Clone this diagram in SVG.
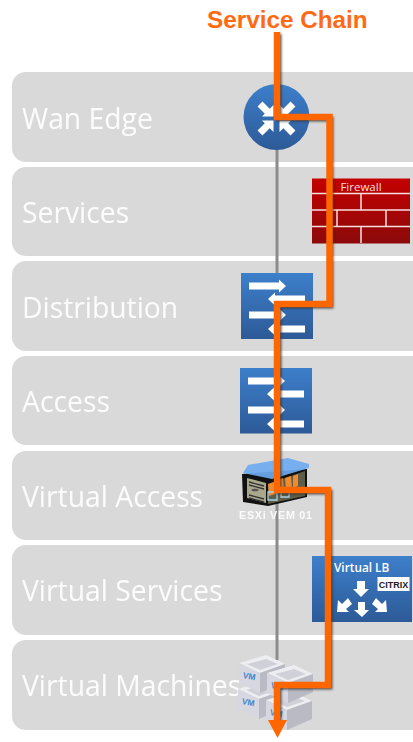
<svg xmlns="http://www.w3.org/2000/svg" width="413" height="742" viewBox="0 0 413 742">
<style>
.band{fill:#d9d9d9}
.lbl{font-family:"Open Sans","Noto Sans",sans-serif;font-size:28.300px;fill:#fff;opacity:.92}
.w{fill:#fff}
.brick{stroke:#f7e0e0;stroke-width:1.500;fill:none}
.vmt{fill:#eeeef2}.vml{fill:#d6d7e0}.vmr{fill:#b9bac3}.vmi{fill:#cfd0d8}
.vmx{font-family:"Liberation Sans",sans-serif;font-size:8.500px;font-weight:bold;fill:#3f86cf}
</style>
<defs>
<linearGradient id="blue" x1="0" y1="0" x2="0" y2="1"><stop offset="0" stop-color="#3d7fcb"/><stop offset="1" stop-color="#2d5a97"/></linearGradient>
<linearGradient id="red" x1="0" y1="0" x2="0" y2="1"><stop offset="0" stop-color="#c40000"/><stop offset="1" stop-color="#8c0a0a"/></linearGradient>
<filter id="soft" x="-10%" y="-10%" width="120%" height="120%"><feGaussianBlur stdDeviation="0.8"/></filter>
<g id="sw">
<path class="w" d="M8 9.500h30v-3l7 6.500-7 6.500v-3h-30z"/>
<path class="w" d="M64 22.500h-30v-3l-7 6.500 7 6.500v-3h30z"/>
<path class="w" d="M8 38.500h30v-3l7 6.500-7 6.500v-3h-30z"/>
<path class="w" d="M64 52.500h-30v-3l-7 6.500 7 6.500v-3h30z"/>
</g>
<g id="vmb">
<path class="vmt" d="M0 8l27-8 19 9-25 9z"/>
<path class="vmi" d="M8 9l19-5 12 5-18 6z"/>
<path class="vml" d="M0 8l21 10v20l-21-10z"/>
<path class="vmr" d="M21 18l25-9v18l-25 11z"/>
<text class="vmx" x="3.500" y="23" transform="rotate(10 3.500 23)">VM</text>
</g>
</defs>

<g id="bands">
<rect class="band" x="12" y="72" width="420" height="90" rx="14"/>
<rect class="band" x="12" y="167" width="420" height="89" rx="14"/>
<rect class="band" x="12" y="261" width="420" height="90" rx="14"/>
<rect class="band" x="12" y="356" width="420" height="89" rx="14"/>
<rect class="band" x="12" y="451" width="420" height="89" rx="14"/>
<rect class="band" x="12" y="545" width="420" height="90" rx="14"/>
<rect class="band" x="12" y="640" width="420" height="90" rx="14"/>
<text class="lbl" x="22" y="128.500">Wan Edge</text>
<text class="lbl" x="22" y="223">Services</text>
<text class="lbl" x="22" y="317.500">Distribution</text>
<text class="lbl" x="22" y="412">Access</text>
<text class="lbl" x="22" y="506.500">Virtual Access</text>
<text class="lbl" x="22" y="601">Virtual Services</text>
<text class="lbl" x="22" y="695.500">Virtual Machines</text>
</g>

<g id="backbone"><path d="M277 118V660" stroke="#8c8c8c" stroke-width="3" fill="none"/></g>

<g id="wan-edge">
<circle cx="276.500" cy="117" r="33" fill="url(#blue)"/>
<path d="M260 104L269 113M293 104L284 113M260 133L269 124M293 133L284 124" stroke="#fff" stroke-width="7" fill="none"/>
<g class="w">
<path d="M273.500 116.500V105L262 116.500z"/>
<path d="M279.500 116.500V105L291 116.500z"/>
<path d="M273.500 120.500V132L262 120.500z"/>
<path d="M279.500 120.500V132L291 120.500z"/>
</g>
</g>

<g id="firewall">
<rect x="312" y="178.500" width="98" height="65" fill="url(#red)"/>
<path class="brick" d="M312 193.500H410M312 210H410M312 226.500H410M361 194V210M337 210V226M386 210V226M361 226V243"/>
<text x="361" y="191" text-anchor="middle" font-family="'Open Sans','Noto Sans',sans-serif" font-size="11.500" fill="#f6dede">Firewall</text>
</g>

<g id="distribution">
<rect x="241" y="273" width="72" height="66" fill="url(#blue)"/>
<use href="#sw" x="241" y="273"/>
</g>

<g id="access">
<rect x="240" y="368" width="72" height="65.500" fill="url(#blue)"/>
<use href="#sw" x="240" y="368"/>
</g>

<g id="esxi">
<path d="M242 474l1 28 25 4 39-9 0-28z" fill="#111"/>
<path d="M247 478l19 5v20l-19-5z" fill="#a9a88c"/>
<path d="M268 484l37-13v25l-37 8z" fill="#5e5e48"/>
<path d="M249 482l15 4M249 485l15 4M249 495l15 4M249 498l15 4" stroke="#333" stroke-width="1.300" fill="none"/>
<ellipse cx="255" cy="490" rx="3.500" ry="1.300" fill="#555"/>
<path d="M268 484l6-2 1 12-6 2zM276 481l7-3 1 13-7 2zM285 478l6-2 1 12-6 2zM293 476l5-2 0 12-5 2z" fill="#f08a2c"/>
<path d="M268 492h9v8h-9zM281 491h8v6h-8z" fill="none" stroke="#a8d4e8" stroke-width="1.300"/>
<path d="M243 473l5-8 40-7 21 6v4l-37 11z" fill="#6eaaf0" opacity=".92"/>
<text x="239" y="519" font-family="'Liberation Sans',sans-serif" font-size="10.800" font-weight="bold" fill="#fff" opacity=".9" textLength="73">ESXi VEM 01</text>
</g>

<g id="virtual-lb">
<rect x="312" y="556" width="100" height="66" fill="url(#blue)"/>
<text x="334" y="572" font-family="'Open Sans','Noto Sans',sans-serif" font-size="11.800" font-weight="600" fill="#fff">Virtual LB</text>
<rect x="377.500" y="577" width="32" height="14" fill="#fff"/>
<text x="393.500" y="588" text-anchor="middle" font-family="'Liberation Sans',sans-serif" font-size="9" font-weight="bold" fill="#222">CITRIX</text>
<g class="w">
<path d="M357 581h8v8h4l-8 8-8-8h4z"/>
<path d="M358 602h7v8h4l-7 7-8-7h4z"/>
<path d="M337 612l1-12 4 4 6-6 4 6-6 5 3 3z"/>
<path d="M387 612l-1-12-4 4-6-6-4 6 6 5-3 3z"/>
</g>
</g>

<g id="virtual-machines">
<use href="#vmb" x="238" y="681"/>
<use href="#vmb" x="239" y="655"/>
<use href="#vmb" x="266" y="692"/>
<use href="#vmb" x="267" y="665"/>
</g>

<g id="connectors">
<path d="M279 34V119H331V306H279V492H330V687H279V722" fill="none" stroke="#333" stroke-width="5" opacity=".8" filter="url(#soft)"/>
<path d="M277 32V117H329.500V304H277V490H328V685H277V722" fill="none" stroke="#ff6600" stroke-width="6.500"/>
<path d="M268 720H287L277.500 738z" fill="#ff6600"/>
</g>

<text id="title" x="207" y="28" font-family="'Liberation Sans',Arial,sans-serif" font-size="24.300" font-weight="bold" fill="#ff6a13">Service Chain</text>
</svg>
